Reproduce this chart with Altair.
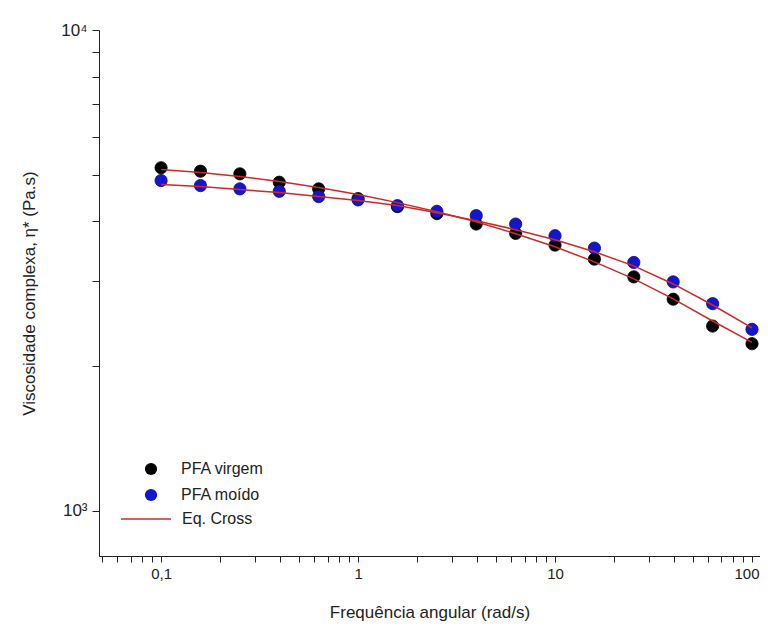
import altair as alt
import pandas as pd

freq = [0.1, 0.1585, 0.2512, 0.3981, 0.631, 1.0, 1.585, 2.512, 3.981, 6.31, 10.0, 15.85, 25.12, 39.81, 63.1, 100.0]
eta_virgem = [5169, 5085, 5021, 4823, 4672, 4460, 4291, 4150, 3948, 3774, 3569, 3337, 3065, 2754, 2422, 2225]
eta_moido = [4862, 4747, 4672, 4618, 4503, 4432, 4312, 4196, 4110, 3948, 3733, 3518, 3284, 2992, 2696, 2384]
fit_virgem = [5126, 5053, 4957, 4840, 4701, 4546, 4374, 4189, 3993, 3769, 3540, 3294, 3036, 2758, 2481, 2240]
fit_moido = [4770, 4724, 4657, 4590, 4503, 4417, 4312, 4169, 4012, 3843, 3663, 3456, 3231, 2963, 2679, 2400]

series_names = ["PFA virgem", "PFA moído"]
fit_name = "Eq. Cross"

pts = pd.DataFrame(
    {"freq": freq * 2,
     "eta": eta_virgem + eta_moido,
     "amostra": [series_names[0]] * len(freq) + [series_names[1]] * len(freq)}
)
fits = pd.DataFrame(
    {"freq": freq * 2,
     "eta": fit_virgem + fit_moido,
     "amostra": [series_names[0]] * len(freq) + [series_names[1]] * len(freq),
     "ajuste": [fit_name] * (2 * len(freq))}
)

x_ticks = [0.05, 0.06, 0.07, 0.08, 0.09, 0.1, 0.2, 0.3, 0.4, 0.5, 0.6, 0.7, 0.8, 0.9,
           1, 2, 3, 4, 5, 6, 7, 8, 9, 10, 20, 30, 40, 50, 60, 70, 80, 90, 100]
y_ticks = [1000, 2000, 3000, 4000, 5000, 6000, 7000, 8000, 9000, 10000]

FONT = "Liberation Sans"

x_enc = alt.X(
    "freq:Q",
    scale=alt.Scale(type="log", domain=[0.0484, 109.8], nice=False),
    axis=alt.Axis(
        title="Frequência angular (rad/s)",
        values=x_ticks,
        labelExpr="datum.value == 0.1 ? '0,1' : datum.value == 1 ? '1' : datum.value == 10 ? '10' : datum.value == 100 ? '100' : ''",
        grid=False, domainColor="#222", tickColor="#222",
        tickSize=6, labelFontSize=15, labelColor="#222", labelFont=FONT,
        titleFont=FONT, titleFontSize=17, titleFontWeight="normal", titleColor="#222",
        titlePadding=23, labelPadding=4, labelFlush=10, labelFlushOffset=7,
        labelOverlap=False,
    ),
)
y_enc = alt.Y(
    "eta:Q",
    scale=alt.Scale(type="log", domain=[805, 10000], nice=False),
    axis=alt.Axis(
        title="Viscosidade complexa, η* (Pa.s)",
        values=y_ticks,
        labelExpr="datum.value == 10000 ? '10⁴' : datum.value == 1000 ? '10³' : ''",
        grid=False, domainColor="#222", tickColor="#222",
        tickSize=7, labelFontSize=17, labelColor="#222", labelFont=FONT,
        titleFont=FONT, titleFontSize=17, titleFontWeight="normal", titleColor="#222",
        titlePadding=22, labelPadding=5, labelOverlap=False,
    ),
)

points = alt.Chart(pts).mark_point(filled=True, size=150, opacity=1, strokeWidth=0.8).encode(
    x=x_enc,
    y=y_enc,
    fill=alt.Fill(
        "amostra:N",
        scale=alt.Scale(domain=series_names, range=["#000000", "#1515d0"]),
        legend=alt.Legend(
            title=None, orient="none", legendX=44, legendY=431,
            symbolType="circle", symbolSize=150, symbolStrokeWidth=0,
            labelFont=FONT, labelFontSize=16, labelColor="#222", labelOffset=22,
            rowPadding=10, padding=0,
        ),
    ),
    stroke=alt.Stroke("amostra:N", scale=alt.Scale(domain=series_names, range=["#000000", "#0a0a80"]), legend=None),
)

lines = alt.Chart(fits).mark_line(strokeWidth=1.5).encode(
    x="freq:Q",
    y="eta:Q",
    detail="amostra:N",
    color=alt.Color(
        "ajuste:N",
        scale=alt.Scale(domain=[fit_name], range=["#cc2a2a"]),
        legend=alt.Legend(
            title=None, orient="none", legendX=21, legendY=463,
            symbolType="stroke", symbolSize=2500, symbolStrokeWidth=1.5,
            labelFont=FONT, labelFontSize=16, labelColor="#222", labelOffset=10,
            padding=0,
        ),
    ),
)

chart = alt.layer(points, lines).resolve_scale(color="independent").properties(
    width=661, height=526,
    background="white",
    autosize=alt.AutoSizeParams(type="none"),
    padding={"left": 91, "top": 22, "right": 0, "bottom": 68},
).configure_view(stroke=None, strokeWidth=0).configure_axis(grid=False)

chart.save("out.html", embed_options={"renderer": "svg", "actions": False})
